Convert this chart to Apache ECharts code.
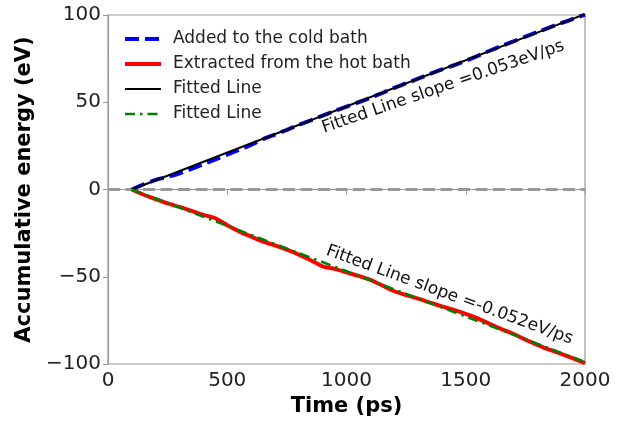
<!DOCTYPE html>
<html><head><meta charset="utf-8">
<script src="https://cdn.jsdelivr.net/npm/echarts@6/dist/echarts.min.js"></script>
<style>html,body{margin:0;padding:0;background:#fff}#c{width:623px;height:422px}</style>
</head><body><div id="c"></div>
<script>
const time = [100,150,200,250,300,350,400,450,500,550,600,650,700,750,800,850,900,950,1000,1050,1100,1150,1200,1250,1300,1350,1400,1450,1500,1550,1600,1650,1700,1750,1800,1850,1900,1950,2000];
const coldAdded = [0,3.0,5.5,7.2,9.3,11.8,14.5,17.2,20.0,22.8,25.6,28.8,31.5,34.2,37.0,39.6,42.3,45.0,47.5,50.0,52.5,55.3,58.2,60.8,63.5,66.2,68.8,71.2,73.8,76.6,79.5,82.3,84.9,87.6,90.2,92.8,95.3,97.8,100.2];
const hotExtracted = [0,-3.0,-5.5,-8.0,-10.0,-12.2,-14.5,-16.5,-20.5,-24.0,-27.0,-29.8,-32.0,-34.5,-37.3,-40.5,-44.0,-45.5,-47.5,-49.5,-51.8,-55.0,-58.3,-60.5,-62.5,-64.8,-67.0,-69.0,-71.3,-73.8,-77.0,-80.0,-82.8,-86.0,-89.0,-91.8,-94.2,-96.8,-99.5];
const fitTime = [100, 2000];
const fitCold = [0, 100.5];
const fitHot = [0, -98.8];
const zeroLevel = 0;
const xTicks = [0, 500, 1000, 1500, 2000];
const yTicks = [-100, -50, 0, 50, 100];
const seriesNames = ['Added to the cold bath', 'Extracted from the hot bath', 'Fitted Line', 'Fitted Line '];
const annotations = ['Fitted Line slope =0.053eV/ps', 'Fitted Line slope =-0.052eV/ps'];

const zip = (a, b) => a.map((v, i) => [v, b[i]]);
const FONT = 'DejaVu Sans';
const chart = echarts.init(document.getElementById('c'), null, {renderer: 'canvas'});
const fmt = v => String(v).replace('-', '\u2212');

const styles = [
  {color: '#0000ff', width: 4, type: [14, 6]},
  {color: '#ff0000', width: 4, type: 'solid'},
  {color: '#000000', width: 2, type: 'solid'},
  {color: '#008000', width: 2.5, type: [10, 5, 2.5, 5]}
];

chart.setOption({
  animation: false,
  backgroundColor: '#fff',
  textStyle: {fontFamily: FONT},
  grid: {left: 108, right: 38, top: 15, bottom: 58, show: true, borderColor: '#999', borderWidth: 1.2},
  legend: {
    data: seriesNames.map((n, i) => ({
      name: n,
      itemStyle: {opacity: 0, color: 'rgba(0,0,0,0)', borderWidth: 0},
      lineStyle: {color: styles[i].color, width: styles[i].width, type: styles[i].type}
    })),
    orient: 'vertical',
    left: 118, top: 24,
    itemWidth: 36, itemHeight: 14, itemGap: 5,
    textStyle: {fontFamily: FONT, fontSize: 17, lineHeight: 20, color: '#222', padding: [0, 0, 0, 7]},
    selectedMode: false
  },
  xAxis: {
    type: 'value', min: xTicks[0], max: xTicks[xTicks.length - 1], interval: 500,
    name: 'Time (ps)', nameLocation: 'middle', nameGap: 31,
    nameTextStyle: {fontFamily: FONT, fontSize: 21, fontWeight: 'bold', color: '#000'},
    axisLine: {show: true, lineStyle: {color: '#999', width: 1.2}},
    axisTick: {show: true, inside: false, length: 5, lineStyle: {color: '#999'}},
    axisLabel: {fontFamily: FONT, fontSize: 20, color: '#222', margin: 7, formatter: fmt},
    splitLine: {show: false}
  },
  yAxis: {
    type: 'value', min: yTicks[0], max: yTicks[yTicks.length - 1], interval: 50,
    name: 'Accumulative energy (eV)', nameLocation: 'middle', nameGap: 66, nameRotate: 90,
    nameTextStyle: {fontFamily: FONT, fontSize: 21, fontWeight: 'bold', color: '#000'},
    axisLine: {show: true, lineStyle: {color: '#999', width: 1.2}},
    axisTick: {show: true, inside: false, length: 5, lineStyle: {color: '#999'}},
    axisLabel: {fontFamily: FONT, fontSize: 20, color: '#222', margin: 7, formatter: fmt},
    splitLine: {show: false}
  },
  series: [
    {
      name: 'zero', type: 'line', symbol: 'none', showSymbol: false, silent: true, z: 1,
      data: zip([xTicks[0], xTicks[xTicks.length - 1]], [zeroLevel, zeroLevel]),
      lineStyle: {color: '#999999', width: 3, type: [12, 5.5]}
    },
    {
      name: seriesNames[0], type: 'line', data: zip(time, coldAdded), symbol: 'none', showSymbol: false, smooth: 0.2,
      lineStyle: styles[0], itemStyle: {color: styles[0].color}, z: 2
    },
    {
      name: seriesNames[1], type: 'line', data: zip(time, hotExtracted), symbol: 'none', showSymbol: false, smooth: 0.2,
      lineStyle: styles[1], itemStyle: {color: styles[1].color}, z: 3
    },
    {
      name: seriesNames[2], type: 'line', data: zip(fitTime, fitCold), symbol: 'none', showSymbol: false,
      lineStyle: styles[2], itemStyle: {color: styles[2].color}, z: 4
    },
    {
      name: seriesNames[3], type: 'line', data: zip(fitTime, fitHot), symbol: 'none', showSymbol: false,
      lineStyle: styles[3], itemStyle: {color: styles[3].color}, z: 5
    }
  ]
});

const p1 = chart.convertToPixel({gridIndex: 0}, [1405, 58.7]);
const p2 = chart.convertToPixel({gridIndex: 0}, [1432, -60.5]);
chart.setOption({
  graphic: [
    {type: 'text', x: p1[0], y: p1[1], rotation: 19 * Math.PI / 180, z: 100,
      style: {text: annotations[0], font: '17px "DejaVu Sans"', fill: '#111', textAlign: 'center', textVerticalAlign: 'middle'}},
    {type: 'text', x: p2[0], y: p2[1], rotation: -20 * Math.PI / 180, z: 100,
      style: {text: annotations[1], font: '17px "DejaVu Sans"', fill: '#111', textAlign: 'center', textVerticalAlign: 'middle'}}
  ]
});
</script></body></html>
